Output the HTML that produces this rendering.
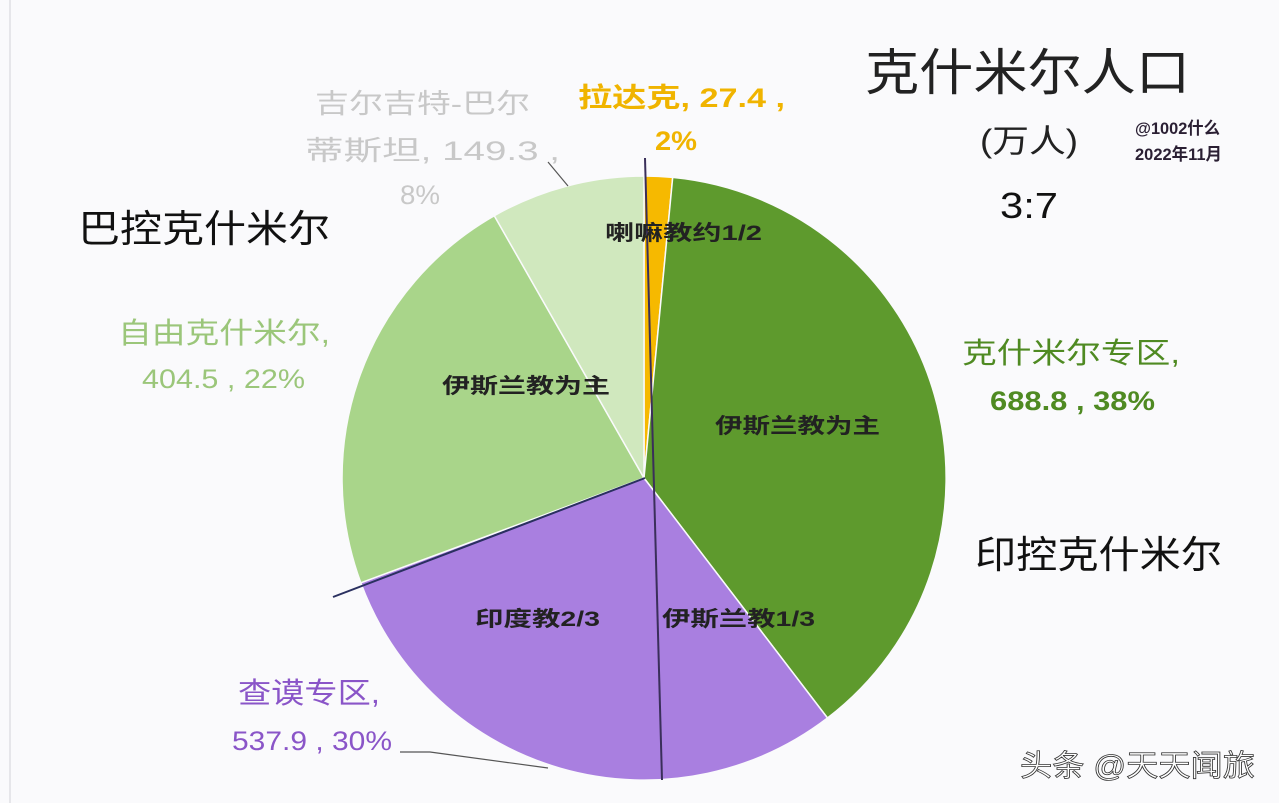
<!DOCTYPE html>
<html><head><meta charset="utf-8"><style>
html,body{margin:0;padding:0;background:#fafafc;}
svg{display:block;}
text{font-family:"Liberation Sans","Noto Sans CJK SC",sans-serif;}
</style></head><body>
<svg width="1279" height="803" viewBox="0 0 1279 803" xmlns="http://www.w3.org/2000/svg">
<rect width="1279" height="803" fill="#fafafc"/>
<line x1="10" y1="0" x2="10" y2="803" stroke="#e6e6ea" stroke-width="2"/>
<g stroke="#fafafc" stroke-width="1.5">
<path d="M644,478 L644,176 A302,302 0 0 1 672.7,177.4 Z" fill="#f6b900"/>
<path d="M644,478 L672.7,177.4 A302,302 0 0 1 827.5,718 Z" fill="#5e9a2d"/>
<path d="M644,478 L827.5,718 A302,302 0 0 1 360.8,582.8 Z" fill="#a97fe0"/>
<path d="M644,478 L360.8,582.8 A302,302 0 0 1 494.3,215.7 Z" fill="#a9d58a"/>
<path d="M644,478 L494.3,215.7 A302,302 0 0 1 644,176 Z" fill="#d0e8be"/>
</g>
<line x1="645" y1="158" x2="662" y2="780" stroke="#3a2f5a" stroke-width="2"/>
<line x1="333" y1="597" x2="645" y2="478" stroke="#2a3060" stroke-width="2"/>
<polyline points="400,752 430,752 548,768" fill="none" stroke="#555" stroke-width="1.2"/>
<line x1="548" y1="162" x2="568" y2="186" stroke="#555" stroke-width="1.2"/>
<g lengthAdjust="spacingAndGlyphs">
<text x="865" y="90" font-size="50" fill="#222" textLength="325" lengthAdjust="spacingAndGlyphs">克什米尔人口</text>
<text x="980" y="152" font-size="32" fill="#222" textLength="98" lengthAdjust="spacingAndGlyphs">(万人)</text>
<text x="1000" y="218" font-size="36" fill="#111" textLength="58" lengthAdjust="spacingAndGlyphs">3:7</text>
<text x="1135" y="134" font-size="17" font-weight="bold" fill="#2a1f33" textLength="85" lengthAdjust="spacingAndGlyphs">@1002什么</text>
<text x="1135" y="160" font-size="17" font-weight="bold" fill="#2a1f33" textLength="87" lengthAdjust="spacingAndGlyphs">2022年11月</text>
<text x="78" y="242" font-size="38" fill="#111" textLength="252" lengthAdjust="spacingAndGlyphs">巴控克什米尔</text>
<text x="975" y="568" font-size="38" fill="#111" textLength="247" lengthAdjust="spacingAndGlyphs">印控克什米尔</text>
<text x="578" y="107" font-size="27" font-weight="bold" fill="#f0b400" textLength="207" lengthAdjust="spacingAndGlyphs">拉达克, 27.4 ,</text>
<text x="655" y="150" font-size="27" font-weight="bold" fill="#f0b400" textLength="42" lengthAdjust="spacingAndGlyphs">2%</text>
<text x="315" y="113" font-size="27" fill="#c8c8c8" textLength="215" lengthAdjust="spacingAndGlyphs">吉尔吉特-巴尔</text>
<text x="305" y="160" font-size="27" fill="#c8c8c8" textLength="255" lengthAdjust="spacingAndGlyphs">蒂斯坦, 149.3 ,</text>
<text x="400" y="204" font-size="27" fill="#c8c8c8" textLength="40" lengthAdjust="spacingAndGlyphs">8%</text>
<text x="118" y="343" font-size="29" fill="#9bc67a" textLength="212" lengthAdjust="spacingAndGlyphs">自由克什米尔,</text>
<text x="142" y="388" font-size="27" fill="#9bc67a" textLength="163" lengthAdjust="spacingAndGlyphs">404.5 , 22%</text>
<text x="962" y="363" font-size="29" fill="#4f8a22" textLength="218" lengthAdjust="spacingAndGlyphs">克什米尔专区,</text>
<text x="990" y="410" font-size="27" font-weight="bold" fill="#4f8a22" textLength="165" lengthAdjust="spacingAndGlyphs">688.8 , 38%</text>
<text x="238" y="703" font-size="29" fill="#8a55c8" textLength="142" lengthAdjust="spacingAndGlyphs">查谟专区,</text>
<text x="232" y="750" font-size="27" fill="#8a55c8" textLength="160" lengthAdjust="spacingAndGlyphs">537.9 , 30%</text>
<text x="605" y="240" font-size="21" font-weight="bold" fill="#222" textLength="157" lengthAdjust="spacingAndGlyphs">喇嘛教约1/2</text>
<text x="442" y="393" font-size="21" font-weight="bold" fill="#222" textLength="168" lengthAdjust="spacingAndGlyphs">伊斯兰教为主</text>
<text x="715" y="433" font-size="21" font-weight="bold" fill="#222" textLength="165" lengthAdjust="spacingAndGlyphs">伊斯兰教为主</text>
<text x="475" y="626" font-size="21" font-weight="bold" fill="#222" textLength="125" lengthAdjust="spacingAndGlyphs">印度教2/3</text>
<text x="662" y="626" font-size="21" font-weight="bold" fill="#222" textLength="153" lengthAdjust="spacingAndGlyphs">伊斯兰教1/3</text>
<text x="1020" y="776" font-size="30" fill="#fff" stroke="#333" stroke-width="0.8" textLength="235" lengthAdjust="spacingAndGlyphs">头条 @天天闻旅</text>
</g>
</svg>
</body></html>
